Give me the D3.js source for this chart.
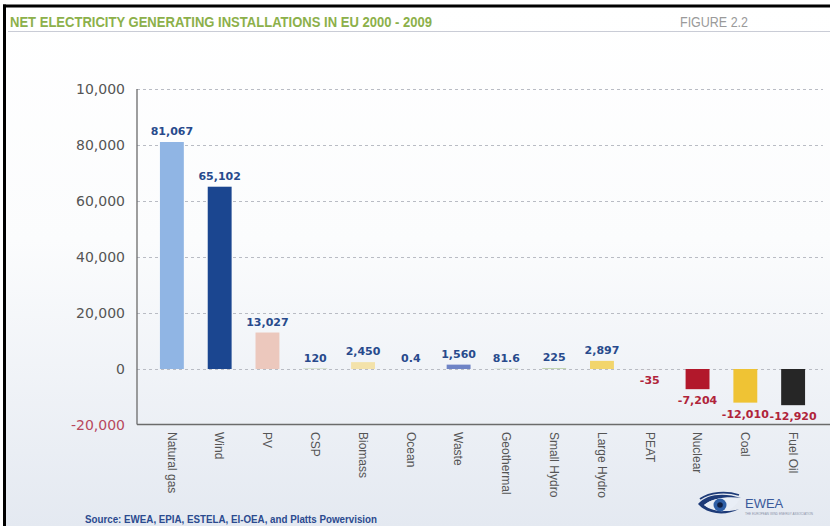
<!DOCTYPE html>
<html>
<head>
<meta charset="utf-8">
<script src="https://cdn.jsdelivr.net/npm/d3@7"></script>
<style>
  html, body { margin: 0; padding: 0; background: #fff; }
  svg { display: block; }
</style>
</head>
<body>
<script>
// Net change in installed generating capacity (MW), EU 2000-2009
const categories = ["Natural gas", "Wind", "PV", "CSP", "Biomass", "Ocean", "Waste",
  "Geothermal", "Small Hydro", "Large Hydro", "PEAT", "Nuclear", "Coal", "Fuel Oil"];
const netMW = [81067, 65102, 13027, 120, 2450, 0.4, 1560, 81.6, 225, 2897, -35, -7204, -12010, -12920];
const barColors = ["#90b5e4", "#1b4690", "#ecc8bd", "#a9c48a", "#f3e2aa", "#c8d3e8", "#6f84c6",
  "#a9c48a", "#a9c48a", "#f2d56c", "#c9a9a9", "#b2182b", "#efc334", "#262626"];
const tickValues = [-20000, 0, 20000, 40000, 60000, 80000, 100000];
const tickLabels = ["-20,000", "0", "20,000", "40,000", "60,000", "80,000", "10,000"];

const W = 830, H = 526;
const svg = d3.select("body").append("svg").attr("width", W).attr("height", H);

// page background
const defs = svg.append("defs");
const grad = defs.append("linearGradient").attr("id", "bg").attr("x1", 0).attr("y1", 0).attr("x2", 0).attr("y2", 1);
grad.append("stop").attr("offset", "0%").attr("stop-color", "#ffffff");
grad.append("stop").attr("offset", "45%").attr("stop-color", "#fbfcfd");
grad.append("stop").attr("offset", "100%").attr("stop-color", "#e4e9f1");
svg.append("rect").attr("x", 5).attr("y", 6).attr("width", W - 5).attr("height", H - 6).attr("fill", "url(#bg)");

// frame edges
svg.append("line").attr("x1", 3).attr("x2", W).attr("y1", 6).attr("y2", 6).attr("stroke", "#000").attr("stroke-width", 3);
svg.append("line").attr("x1", 4.5).attr("x2", 4.5).attr("y1", 4.5).attr("y2", H).attr("stroke", "#000").attr("stroke-width", 3);

// header
svg.append("text").attr("x", 10).attr("y", 27)
  .attr("font-family", "Liberation Sans Narrow, Liberation Sans, sans-serif")
  .attr("font-size", 14).attr("font-weight", "bold").attr("fill", "#8cb04a")
  .attr("textLength", 422).attr("lengthAdjust", "spacingAndGlyphs")
  .text("NET ELECTRICITY GENERATING INSTALLATIONS IN EU 2000 - 2009");
svg.append("text").attr("x", 680).attr("y", 27)
  .attr("font-family", "Liberation Sans Narrow, Liberation Sans, sans-serif")
  .attr("font-size", 14).attr("fill", "#9a9a9a")
  .attr("textLength", 68).attr("lengthAdjust", "spacingAndGlyphs")
  .text("FIGURE 2.2");
svg.append("line").attr("x1", 8).attr("x2", W).attr("y1", 31.5).attr("y2", 31.5)
  .attr("stroke", "#c9ccd6").attr("stroke-width", 1);

// scales
const plotLeft = 137, plotRight = 828;
const x = d3.scaleBand().domain(categories).range([plotLeft, plotRight]).paddingInner(0.5).paddingOuter(0.48);
const y = d3.scaleLinear().domain([-20000, 100000]).range([425, 89]);

// gridlines
const grid = svg.append("g").attr("transform", `translate(${plotLeft},0)`)
  .call(d3.axisLeft(y).tickValues(tickValues.filter(v => v > -20000)).tickSize(-(823 - plotLeft)).tickFormat(""));
grid.select(".domain").remove();
grid.selectAll(".tick line").attr("stroke", "#b9bcc4").attr("stroke-dasharray", "3,3").attr("stroke-width", 1);

// y-axis labels
const yAxis = svg.append("g").attr("transform", `translate(125,0)`)
  .call(d3.axisLeft(y).tickValues(tickValues).tickSize(0).tickPadding(0)
    .tickFormat((d, i) => tickLabels[i]));
yAxis.select(".domain").remove();
yAxis.selectAll(".tick text")
  .attr("font-family", "DejaVu Sans, sans-serif").attr("font-size", 14)
  .attr("fill", d => d < 0 ? "#b8485e" : "#555");

// bars
const fmt = d3.formatLocale({ decimal: ".", thousands: ",", grouping: [3], currency: ["", ""], minus: "-" }).format(",");
svg.append("g").selectAll("rect").data(categories).join("rect")
  .attr("x", d => x(d))
  .attr("width", x.bandwidth())
  .attr("y", (d, i) => y(Math.max(0, netMW[i])))
  .attr("height", (d, i) => Math.abs(y(netMW[i]) - y(0)))
  .attr("fill", (d, i) => barColors[i]);

// value labels
svg.append("g").selectAll("text").data(categories).join("text")
  .attr("x", d => x(d) + x.bandwidth() / 2)
  .attr("y", (d, i) => netMW[i] >= 0 ? y(netMW[i]) - 7 : y(netMW[i]) + 15)
  .attr("text-anchor", "middle")
  .attr("font-family", "DejaVu Sans, sans-serif").attr("font-weight", "bold").attr("font-size", 11)
  .attr("fill", (d, i) => netMW[i] >= 0 ? "#284a8c" : "#b0243a")
  .text((d, i) => fmt(netMW[i]));

// axis lines
svg.append("line").attr("x1", plotLeft).attr("x2", plotLeft).attr("y1", 89).attr("y2", 424.5)
  .attr("stroke", "#6b6b6b").attr("stroke-width", 1.3);
svg.append("line").attr("x1", plotLeft).attr("x2", W).attr("y1", 424.5).attr("y2", 424.5)
  .attr("stroke", "#6b6b6b").attr("stroke-width", 1.3);

// category labels
const xAxis = svg.append("g").attr("transform", "translate(0,424)")
  .call(d3.axisBottom(x).tickSize(0).tickPadding(0));
xAxis.select(".domain").remove();
xAxis.selectAll(".tick text")
  .attr("transform", "translate(0,8) rotate(90)")
  .attr("x", 0).attr("y", 0).attr("dy", "0.35em")
  .attr("text-anchor", "start")
  .attr("font-family", "Liberation Sans, sans-serif").attr("font-size", 12)
  .attr("fill", "#555");

// source line
svg.append("text").attr("x", 85).attr("y", 523)
  .attr("font-family", "Liberation Sans, sans-serif").attr("font-weight", "bold").attr("font-size", 11)
  .attr("fill", "#2b4a8f")
  .attr("textLength", 292).attr("lengthAdjust", "spacingAndGlyphs")
  .text("Source: EWEA, EPIA, ESTELA, EI-OEA, and Platts Powervision");

// EWEA mark
const logo = svg.append("g").attr("transform", "translate(698,494)");
logo.append("path")
  .attr("d", "M0,10 C8,0 26,-2 43,4 C30,2 14,4 6,11 C14,17 30,19 41,15 C28,22 10,21 0,10 Z")
  .attr("fill", "#1e3b78");
logo.append("path")
  .attr("d", "M6,11 C14,4 30,2 41,6 C37,14 29,18 21,17 C15,16 9,14 6,11 Z")
  .attr("fill", "#e9eef6");
logo.append("circle").attr("cx", 22).attr("cy", 11).attr("r", 6.5).attr("fill", "#2f5fa6");
logo.append("circle").attr("cx", 22).attr("cy", 11).attr("r", 2.8).attr("fill", "#0f1f44");
logo.append("path").attr("d", "M2,5 C12,-2 28,-3 41,1").attr("fill", "none").attr("stroke", "#1e3b78").attr("stroke-width", 1.8);
logo.append("text").attr("x", 47).attr("y", 14)
  .attr("font-family", "Liberation Sans, sans-serif").attr("font-size", 13)
  .attr("fill", "#3a5a9b").text("EWEA");
logo.append("text").attr("x", 47).attr("y", 20.5)
  .attr("font-family", "Liberation Sans, sans-serif").attr("font-size", 3)
  .attr("fill", "#8a93a8")
  .attr("textLength", 68).attr("lengthAdjust", "spacingAndGlyphs")
  .text("THE EUROPEAN WIND ENERGY ASSOCIATION");
</script>
</body>
</html>
